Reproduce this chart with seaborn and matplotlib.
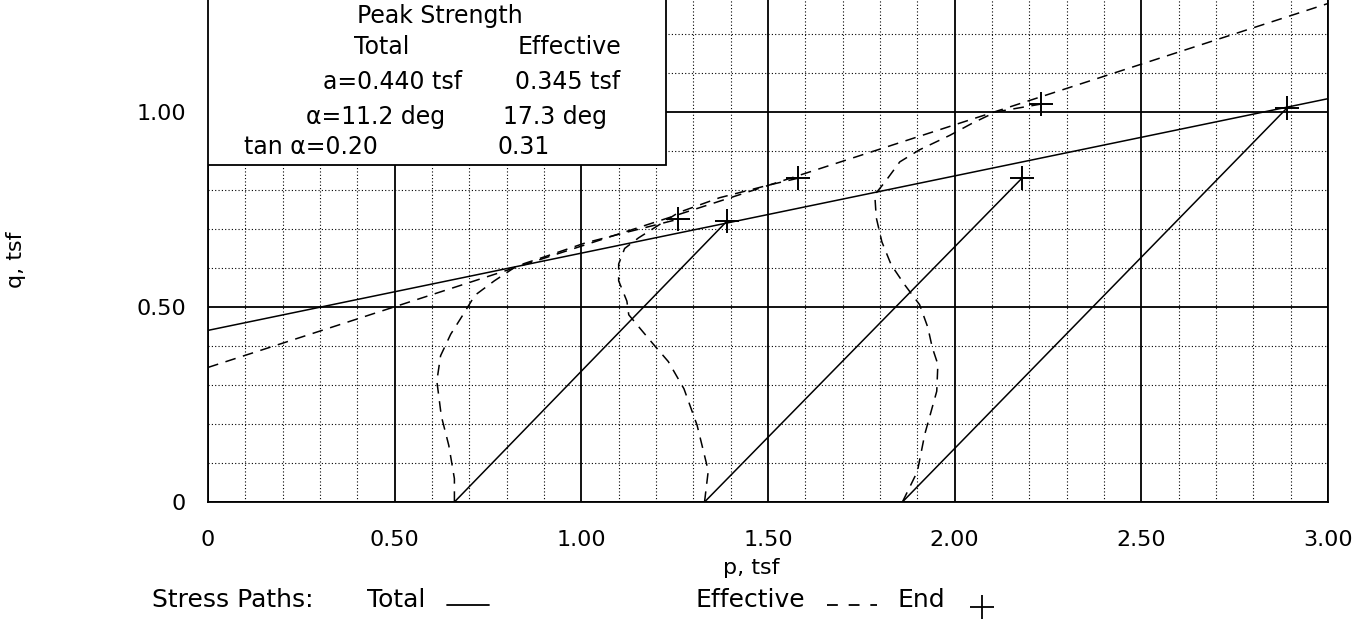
import matplotlib
matplotlib.use("Agg")
import matplotlib.pyplot as plt
from matplotlib.patches import Rectangle
from matplotlib.lines import Line2D
import numpy as np
import pandas as pd
import seaborn as sns

# envelope parameters (peak strength)
a_total, tan_total = 0.440, 0.198
a_eff, tan_eff = 0.345, 0.311
env_p = [0.0, 3.0]

# total stress paths (straight lines, start -> end)
total_start_p = [0.66, 1.33, 1.86]
total_end_p = [1.39, 2.18, 2.89]
total_end_q = [0.72, 0.83, 1.01]

# effective stress paths
eff1_p = [0.66, 0.66, 0.645, 0.625, 0.613, 0.623, 0.65, 0.683, 0.715, 0.767, 0.827, 0.906, 1.01, 1.115, 1.21, 1.26]
eff1_q = [0.0, 0.06, 0.145, 0.22, 0.31, 0.375, 0.43, 0.48, 0.53, 0.567, 0.605, 0.63, 0.664, 0.69, 0.713, 0.725]
eff2_p = [1.33, 1.34, 1.31, 1.275, 1.233, 1.188, 1.153, 1.127, 1.122, 1.10, 1.10, 1.116, 1.153, 1.26, 1.37, 1.50, 1.58]
eff2_q = [0.0, 0.08, 0.197, 0.29, 0.36, 0.41, 0.45, 0.48, 0.515, 0.567, 0.61, 0.65, 0.677, 0.742, 0.78, 0.812, 0.83]
eff3_p = [1.86, 1.90, 1.92, 1.952, 1.955, 1.94, 1.928, 1.906, 1.866, 1.83, 1.805, 1.79, 1.786, 1.813, 1.853, 1.906, 1.987, 2.045, 2.11, 2.23]
eff3_q = [0.0, 0.078, 0.174, 0.284, 0.353, 0.396, 0.448, 0.506, 0.557, 0.608, 0.667, 0.729, 0.788, 0.82, 0.872, 0.903, 0.94, 0.97, 1.0, 1.02]

# end points (+)
end_p = [1.39, 2.18, 2.89, 1.26, 1.58, 2.23]
end_q = [0.72, 0.83, 1.01, 0.725, 0.83, 1.02]

x_ticks = [0, 0.5, 1.0, 1.5, 2.0, 2.5, 3.0]
x_tick_labels = ["0", "0.50", "1.00", "1.50", "2.00", "2.50", "3.00"]
y_ticks = [0, 0.5, 1.0]
y_tick_labels = ["0", "0.50", "1.00"]

sns.set_style("white")
plt.rcParams["font.family"] = ["DejaVu Sans"]
plt.rcParams["text.color"] = "black"
plt.rcParams["axes.labelcolor"] = "black"
plt.rcParams["xtick.color"] = "black"
plt.rcParams["ytick.color"] = "black"

W, H = 1359, 625
fig = plt.figure(figsize=(W / 100, H / 100), dpi=100)
ax = fig.add_axes([208 / W, 1 - 502 / H, 1120 / W, 502 / H])

# envelopes
sns.lineplot(x=env_p, y=[a_total + tan_total * p for p in env_p], ax=ax,
             color="black", lw=1.1, sort=False, estimator=None)
sns.lineplot(x=env_p, y=[a_eff + tan_eff * p for p in env_p], ax=ax,
             color="black", lw=1.1, ls=(0, (7, 5)), sort=False, estimator=None)

# total paths
for p0, p1, q1 in zip(total_start_p, total_end_p, total_end_q):
    sns.lineplot(x=[p0, p1], y=[0.0, q1], ax=ax, color="black", lw=1.1,
                 sort=False, estimator=None)

# effective paths
for pp, qq in [(eff1_p, eff1_q), (eff2_p, eff2_q), (eff3_p, eff3_q)]:
    sns.lineplot(x=pp, y=qq, ax=ax, color="black", lw=1.1, ls=(0, (7, 5)),
                 sort=False, estimator=None)

sns.scatterplot(x=end_p, y=end_q, ax=ax, marker="+", s=300, color="black",
                linewidth=1.4, zorder=6)

ax.set_xlim(0, 3.0)
ax.set_ylim(0, 1.287)
ax.set_xticks(x_ticks)
ax.set_xticklabels(x_tick_labels)
ax.set_yticks(y_ticks)
ax.set_yticklabels(y_tick_labels)
ax.set_xticks(np.arange(0, 3.001, 0.1), minor=True)
ax.set_yticks(np.arange(0, 1.3, 0.1), minor=True)
ax.grid(which="major", color="black", lw=1.3, ls="-")
ax.grid(which="minor", color="black", lw=0.8, ls=(0, (1, 2)))
ax.set_axisbelow(True)
ax.tick_params(which="both", length=0, labelsize=16, colors="black")
ax.tick_params(axis="x", pad=20)
ax.tick_params(axis="y", pad=16)
ax.spines["top"].set_visible(False)
for s in ["left", "right", "bottom"]:
    ax.spines[s].set_color("black")
    ax.spines[s].set_linewidth(1.3)
ax.set_xlabel("")
ax.set_ylabel("")

# strength box
ax.add_patch(Rectangle((0, 0.671), 0.409, 0.5, transform=ax.transAxes,
                       facecolor="white", edgecolor="black", lw=1.3, zorder=8))


def fx(px):
    return (px - 208) / 1120


def fy(py):
    return (502 - py) / 502


box_txt = [
    ("Peak Strength", 440, 16),
    ("Total", 382, 47), ("Effective", 569, 47),
    ("a=0.440 tsf", 393, 82), ("0.345 tsf", 568, 82),
    ("α=11.2 deg", 376, 117), ("17.3 deg", 555, 117),
    ("tan α=0.20", 311, 147), ("0.31", 524, 147),
]
for t, px, py in box_txt:
    ax.text(fx(px), fy(py), t, transform=ax.transAxes, ha="center", va="center",
            fontsize=17, color="black", zorder=9)

# axis labels
fig.text(751 / W, 1 - 568 / H, "p, tsf", ha="center", va="center", fontsize=16)
fig.text(16 / W, 1 - 260 / H, "q, tsf", ha="center", va="center", fontsize=16,
         rotation=90)

# legend row
yl = 1 - 600 / H
fig.text(152 / W, yl, "Stress Paths:", ha="left", va="center", fontsize=18)
fig.text(367 / W, yl, "Total", ha="left", va="center", fontsize=18)
fig.text(695 / W, yl, "Effective", ha="left", va="center", fontsize=18)
fig.text(898 / W, yl, "End", ha="left", va="center", fontsize=18)
fig.add_artist(Line2D([447 / W, 489 / W], [1 - 605 / H] * 2, color="black",
                      lw=1.3, transform=fig.transFigure))
fig.add_artist(Line2D([827 / W, 877 / W], [1 - 605 / H] * 2, color="black",
                      lw=1.3, ls=(0, (6, 6)), transform=fig.transFigure))
fig.add_artist(Line2D([982 / W], [1 - 607 / H], color="black", marker="+",
                      markersize=17, mew=1.3, transform=fig.transFigure))

fig.savefig("out.png", dpi=100)
